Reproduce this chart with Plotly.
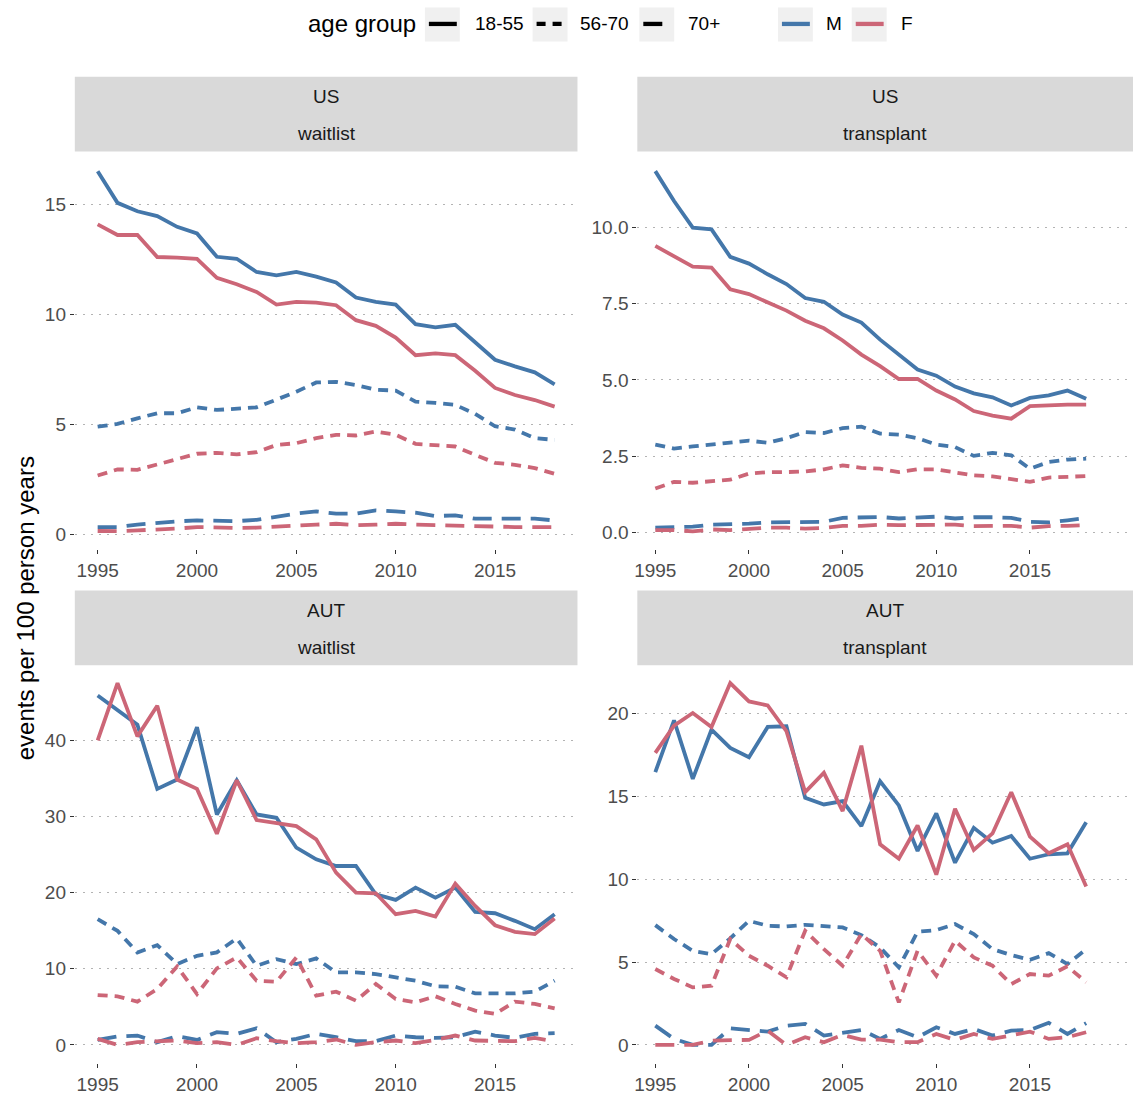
import plotly.graph_objects as go

W, H = 1135, 1095

years = list(range(1995, 2019))

# US, waitlist
us_wait_m_18_55 = [16.5, 15.06, 14.68, 14.46, 13.97, 13.67, 12.61, 12.52, 11.92, 11.77, 11.92, 11.71,
                   11.44, 10.76, 10.56, 10.44, 9.55, 9.40, 9.52, 8.72, 7.93, 7.63, 7.36, 6.81]
us_wait_f_18_55 = [14.08, 13.6, 13.6, 12.6, 12.57, 12.52, 11.65, 11.36, 11.01, 10.44, 10.56, 10.53,
                   10.41, 9.73, 9.47, 8.94, 8.14, 8.22, 8.14, 7.43, 6.65, 6.33, 6.10, 5.80]
us_wait_m_56_70 = [4.89, 5.02, 5.27, 5.5, 5.5, 5.77, 5.65, 5.72, 5.77, 6.12, 6.48, 6.9,
                   6.93, 6.78, 6.57, 6.53, 6.03, 5.97, 5.88, 5.47, 4.91, 4.76, 4.37, 4.29]
us_wait_f_56_70 = [2.67, 2.95, 2.93, 3.16, 3.40, 3.66, 3.70, 3.63, 3.73, 4.06, 4.14, 4.37,
                   4.52, 4.49, 4.67, 4.52, 4.11, 4.06, 3.99, 3.61, 3.25, 3.16, 3.01, 2.75]
us_wait_m_70 = [0.33, 0.33, 0.44, 0.53, 0.59, 0.63, 0.63, 0.60, 0.66, 0.82, 0.94, 1.04,
                0.94, 0.94, 1.09, 1.04, 0.98, 0.83, 0.86, 0.71, 0.71, 0.71, 0.71, 0.63]
us_wait_f_70 = [0.15, 0.14, 0.18, 0.21, 0.26, 0.33, 0.29, 0.29, 0.30, 0.36, 0.41, 0.44,
                0.48, 0.41, 0.44, 0.48, 0.44, 0.41, 0.41, 0.38, 0.33, 0.33, 0.33, 0.33]

# US, transplant
us_tx_m_18_55 = [11.84, 10.86, 9.99, 9.93, 9.03, 8.81, 8.46, 8.14, 7.68, 7.56, 7.14, 6.88,
                 6.32, 5.83, 5.34, 5.14, 4.78, 4.56, 4.43, 4.16, 4.41, 4.49, 4.65, 4.38]
us_tx_f_18_55 = [9.39, 9.06, 8.71, 8.68, 7.97, 7.81, 7.54, 7.27, 6.94, 6.69, 6.29, 5.83,
                 5.45, 5.03, 5.03, 4.65, 4.36, 3.98, 3.83, 3.73, 4.14, 4.18, 4.19, 4.19]
us_tx_m_56_70 = [2.88, 2.75, 2.82, 2.88, 2.96, 3.01, 2.94, 3.09, 3.29, 3.26, 3.42, 3.47,
                 3.24, 3.21, 3.09, 2.88, 2.80, 2.51, 2.61, 2.53, 2.09, 2.31, 2.39, 2.42]
us_tx_f_56_70 = [1.44, 1.66, 1.63, 1.69, 1.73, 1.93, 1.98, 1.98, 2.00, 2.07, 2.20, 2.12,
                 2.09, 1.98, 2.07, 2.07, 1.96, 1.87, 1.84, 1.76, 1.66, 1.80, 1.82, 1.85]
us_tx_m_70 = [0.16, 0.16, 0.19, 0.26, 0.26, 0.29, 0.33, 0.33, 0.33, 0.35, 0.48, 0.48,
              0.51, 0.46, 0.50, 0.52, 0.46, 0.50, 0.50, 0.48, 0.35, 0.33, 0.40, 0.48]
us_tx_f_70 = [0.08, 0.08, 0.04, 0.10, 0.08, 0.13, 0.16, 0.16, 0.13, 0.15, 0.22, 0.22,
              0.26, 0.24, 0.24, 0.24, 0.26, 0.21, 0.21, 0.22, 0.16, 0.21, 0.22, 0.24]

# AUT, waitlist
aut_wait_m_18_55 = [45.85, 43.97, 42.0, 33.59, 34.81, 41.7, 30.23, 34.72, 30.23, 29.79, 25.87, 24.34,
                    23.47, 23.47, 19.76, 19.02, 20.63, 19.32, 20.63, 17.45, 17.27, 16.27, 15.18, 17.14]
aut_wait_f_18_55 = [39.96, 47.46, 40.48, 44.49, 34.81, 33.59, 27.7, 34.72, 29.49, 29.05, 28.7, 26.96,
                    22.6, 19.98, 19.89, 17.14, 17.58, 16.84, 21.16, 18.23, 15.7, 14.83, 14.53, 16.58]
aut_wait_m_56_70 = [16.49, 14.96, 12.13, 13.09, 10.6, 11.69, 12.13, 13.96, 10.38, 11.25, 10.6, 11.34,
                    9.51, 9.51, 9.29, 8.85, 8.42, 7.68, 7.63, 6.76, 6.76, 6.76, 6.98, 8.42]
aut_wait_f_56_70 = [6.54, 6.37, 5.67, 7.33, 10.29, 6.67, 10.03, 11.47, 8.42, 8.29, 11.47, 6.46,
                    6.98, 5.8, 7.98, 6.02, 5.58, 6.37, 5.37, 4.49, 4.06, 5.67, 5.37, 4.8]
aut_wait_m_70 = [0.65, 1.09, 1.22, 0.35, 1.13, 0.65, 1.66, 1.44, 2.18, 0.35, 0.79, 1.44,
                 1.0, 0.48, 0.48, 1.22, 1.0, 0.92, 1.0, 1.74, 1.22, 0.92, 1.44, 1.53]
aut_wait_f_70 = [0.79, 0.0, 0.35, 0.44, 0.57, 0.22, 0.35, 0.0, 0.87, 0.48, 0.22, 0.35,
                 0.7, 0.0, 0.35, 0.57, 0.22, 0.65, 1.22, 0.57, 0.48, 0.48, 0.92, 0.44]

# AUT, transplant
aut_tx_m_18_55 = [16.47, 19.6, 16.06, 19.04, 17.93, 17.37, 19.2, 19.24, 14.92, 14.52, 14.72, 13.21,
                  15.92, 14.46, 11.71, 13.98, 11.0, 13.11, 12.21, 12.61, 11.24, 11.51, 11.57, 13.45]
aut_tx_f_18_55 = [17.63, 19.28, 20.04, 19.2, 21.85, 20.74, 20.5, 18.94, 15.26, 16.43, 14.12, 18.07,
                  12.11, 11.24, 13.25, 10.28, 14.26, 11.77, 12.77, 15.26, 12.57, 11.57, 12.11, 9.56]
aut_tx_m_56_70 = [7.23, 6.39, 5.68, 5.48, 6.43, 7.49, 7.19, 7.15, 7.25, 7.15, 7.09, 6.63,
                  5.88, 4.68, 6.83, 6.93, 7.29, 6.69, 5.78, 5.42, 5.14, 5.54, 4.88, 5.78]
aut_tx_f_56_70 = [4.58, 3.98, 3.47, 3.57, 6.39, 5.38, 4.78, 4.08, 6.89, 5.78, 4.78, 6.69,
                  5.68, 2.57, 5.68, 4.18, 6.29, 5.28, 4.78, 3.67, 4.28, 4.18, 4.74, 3.78]
aut_tx_m_70 = [1.16, 0.36, 0.0, 0.0, 1.0, 0.9, 0.8, 1.16, 1.27, 0.56, 0.72, 0.9,
               0.36, 0.9, 0.46, 1.06, 0.66, 0.96, 0.56, 0.86, 0.9, 1.33, 0.66, 1.31]
aut_tx_f_70 = [0.0, 0.0, 0.0, 0.26, 0.3, 0.3, 0.86, 0.0, 0.46, 0.16, 0.6, 0.32,
               0.32, 0.16, 0.16, 0.66, 0.3, 0.66, 0.36, 0.6, 0.8, 0.36, 0.46, 0.76]

age_groups = ["18-55", "56-70", "70+"]
sexes = ["M", "F"]
countries = ["US", "AUT"]
outcomes = ["waitlist", "transplant"]

panel_data = {
    ("US", "waitlist"): {("M", "18-55"): us_wait_m_18_55, ("F", "18-55"): us_wait_f_18_55,
                         ("M", "56-70"): us_wait_m_56_70, ("F", "56-70"): us_wait_f_56_70,
                         ("M", "70+"): us_wait_m_70, ("F", "70+"): us_wait_f_70},
    ("US", "transplant"): {("M", "18-55"): us_tx_m_18_55, ("F", "18-55"): us_tx_f_18_55,
                           ("M", "56-70"): us_tx_m_56_70, ("F", "56-70"): us_tx_f_56_70,
                           ("M", "70+"): us_tx_m_70, ("F", "70+"): us_tx_f_70},
    ("AUT", "waitlist"): {("M", "18-55"): aut_wait_m_18_55, ("F", "18-55"): aut_wait_f_18_55,
                          ("M", "56-70"): aut_wait_m_56_70, ("F", "56-70"): aut_wait_f_56_70,
                          ("M", "70+"): aut_wait_m_70, ("F", "70+"): aut_wait_f_70},
    ("AUT", "transplant"): {("M", "18-55"): aut_tx_m_18_55, ("F", "18-55"): aut_tx_f_18_55,
                            ("M", "56-70"): aut_tx_m_56_70, ("F", "56-70"): aut_tx_f_56_70,
                            ("M", "70+"): aut_tx_m_70, ("F", "70+"): aut_tx_f_70},
}

x_ticks = [1995, 2000, 2005, 2010, 2015]
y_ticks = {
    ("US", "waitlist"): [0, 5, 10, 15],
    ("US", "transplant"): [0, 2.5, 5, 7.5, 10],
    ("AUT", "waitlist"): [0, 10, 20, 30, 40],
    ("AUT", "transplant"): [0, 5, 10, 15, 20],
}
y_ranges = {
    ("US", "waitlist"): [-0.69, 17.39],
    ("US", "transplant"): [-0.556, 12.48],
    ("AUT", "waitlist"): [-2.39, 49.82],
    ("AUT", "transplant"): [-1.10, 22.93],
}

# ---- styling ----
FONT = "Liberation Sans, Arial, sans-serif"
sex_colors = {"M": "#4477AA", "F": "#CC6677"}
age_dash = {"18-55": "solid", "56-70": "10px,7px", "70+": "19px,10px"}
LW = 3.8


def px_x(p):
    return p / W


def px_y(p):
    return 1 - p / H


# panel pixel boxes: (left, right, top, bottom), strips (top, bottom)
col_x = {"waitlist": (72, 576), "transplant": (636, 1133)}
row_y = {"US": (152, 551), "AUT": (667, 1066)}
strip_y = {"US": (77, 152), "AUT": (592, 667)}
x_ranges = {"waitlist": [1993.85, 2019.15], "transplant": [1994.04, 2020.5]}

fig = go.Figure()
layout = dict(
    width=W, height=H,
    margin=dict(l=0, r=0, t=0, b=0),
    paper_bgcolor="white", plot_bgcolor="white",
    showlegend=False,
    font=dict(family=FONT, size=19, color="#4D4D4D"),
)
shapes = []
annotations = []

idx = 0
for c in countries:
    for o in outcomes:
        idx += 1
        xa = "x" if idx == 1 else f"x{idx}"
        ya = "y" if idx == 1 else f"y{idx}"
        xl, xr = col_x[o]
        yt, yb = row_y[c]
        layout["xaxis" if idx == 1 else f"xaxis{idx}"] = dict(
            domain=[px_x(xl), px_x(xr)], anchor=ya, range=x_ranges[o],
            tickvals=x_ticks, ticks="outside", ticklen=4, tickwidth=1.4,
            tickcolor="#333333", showgrid=False, zeroline=False, showline=False,
            tickfont=dict(family=FONT, size=19, color="#4D4D4D"),
        )
        ylab = [f"{v:.1f}" for v in y_ticks[(c, o)]] if (c, o) == ("US", "transplant") else \
            [f"{v:g}" for v in y_ticks[(c, o)]]
        layout["yaxis" if idx == 1 else f"yaxis{idx}"] = dict(
            domain=[px_y(yb), px_y(yt)], anchor=xa, range=y_ranges[(c, o)],
            tickvals=y_ticks[(c, o)], ticktext=ylab, ticks="outside", ticklen=4,
            tickwidth=1.4, tickcolor="#333333", showgrid=True, gridcolor="#B3B3B3",
            gridwidth=1.4, griddash="2px,6px", zeroline=False, showline=False,
            tickfont=dict(family=FONT, size=19, color="#4D4D4D"),
        )
        # facet strip
        st, sb = strip_y[c]
        shapes.append(dict(type="rect", xref="paper", yref="paper",
                           x0=px_x(xl), x1=px_x(xr), y0=px_y(sb), y1=px_y(st),
                           fillcolor="#D9D9D9", line=dict(width=0), layer="below"))
        mid = (xl + xr) / 2
        h = sb - st
        annotations.append(dict(text=c, x=px_x(mid), y=px_y(st + h * 0.27), xref="paper",
                                yref="paper", showarrow=False, xanchor="center", yanchor="middle",
                                font=dict(family=FONT, size=19, color="#1A1A1A")))
        annotations.append(dict(text=o, x=px_x(mid), y=px_y(st + h * 0.76), xref="paper",
                                yref="paper", showarrow=False, xanchor="center", yanchor="middle",
                                font=dict(family=FONT, size=19, color="#1A1A1A")))
        for a in age_groups:
            for s in sexes:
                fig.add_trace(go.Scatter(
                    x=years, y=panel_data[(c, o)][(s, a)], mode="lines",
                    line=dict(color=sex_colors[s], width=LW, dash=age_dash[a]),
                    xaxis=xa, yaxis=ya, name=f"{s} {a}", hoverinfo="x+y+name",
                ))

# y axis title
annotations.append(dict(text="events per 100 person years", x=px_x(22), y=px_y(610),
                        xref="paper", yref="paper", showarrow=False, textangle=-90,
                        xanchor="center", yanchor="middle",
                        font=dict(family=FONT, size=24, color="#000000")))

# legend (drawn in paper space)
LEG_Y = 24
annotations.append(dict(text="age group", x=px_x(304), y=px_y(LEG_Y), xref="paper", yref="paper",
                        showarrow=False, xanchor="left", yanchor="middle",
                        font=dict(family=FONT, size=24, color="#000000")))
legend_keys = [
    (423, "black", age_dash["18-55"], "18-55", 471),
    (531, "black", "9px,7px", "56-70", 577),
    (638, "black", age_dash["70+"], "70+", 685),
    (777, sex_colors["M"], "solid", "M", 823),
    (851, sex_colors["F"], "solid", "F", 898),
]
for bx, col, dash, lab, tx in legend_keys:
    shapes.append(dict(type="rect", xref="paper", yref="paper",
                       x0=px_x(bx), x1=px_x(bx + 35), y0=px_y(41.5), y1=px_y(7.5),
                       fillcolor="#F0F0F0", line=dict(width=0)))
    shapes.append(dict(type="line", xref="paper", yref="paper",
                       x0=px_x(bx + 4), x1=px_x(bx + 32), y0=px_y(LEG_Y), y1=px_y(LEG_Y),
                       line=dict(color=col, width=4.3, dash=dash)))
    annotations.append(dict(text=lab, x=px_x(tx), y=px_y(LEG_Y), xref="paper", yref="paper",
                            showarrow=False, xanchor="left", yanchor="middle",
                            font=dict(family=FONT, size=19, color="#000000")))

layout["shapes"] = shapes
layout["annotations"] = annotations
fig.update_layout(**layout)
fig.write_html("out.html")
